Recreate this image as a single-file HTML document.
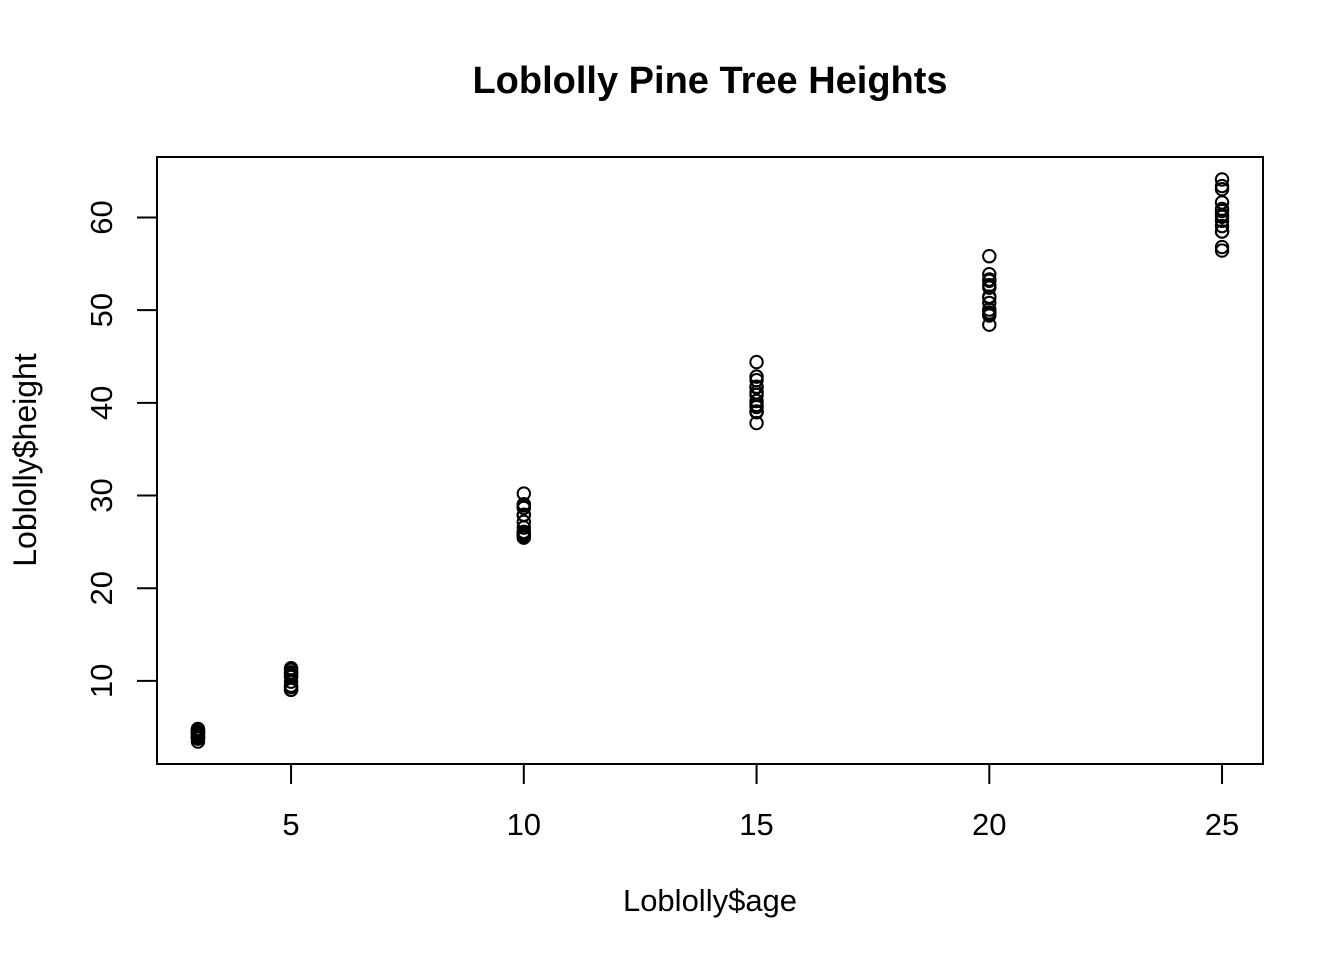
<!DOCTYPE html>
<html><head><meta charset="utf-8"><style>
body{margin:0;background:#fff;}
svg{display:block;font-family:"Liberation Sans",Arial,sans-serif;}
</style></head><body>
<svg id="chart" width="1344" height="960" viewBox="0 0 1344 960">
<text x="710" y="93" text-anchor="middle" font-size="38" font-weight="bold">Loblolly Pine Tree Heights</text>
<rect x="157" y="157" width="1106" height="607" fill="none" stroke="#000" stroke-width="2"/>
<text x="710" y="911" text-anchor="middle" font-size="31">Loblolly$age</text>
<text transform="translate(36,460) rotate(-90)" text-anchor="middle" font-size="32">Loblolly$height</text>
<g id="xaxis"></g>
<g id="yaxis"></g>
<g id="points"></g>
</svg>
<script>
const ages = [3,5,10,15,20,25];
const heights3 = [4.51,4.55,4.79,3.91,4.81,3.88,4.32,4.57,3.77,4.33,4.38,4.12,3.93,3.46];
const heights5 = [10.89,10.92,11.37,9.48,11.20,9.40,10.43,10.57,9.03,10.79,10.48,9.92,9.34,9.05];
const heights10 = [28.72,29.07,30.21,25.66,28.66,25.99,27.16,27.90,25.45,28.97,27.93,26.54,26.08,25.85];
const heights15 = [41.74,42.83,44.40,39.07,41.66,39.55,40.85,41.13,38.98,42.44,40.20,37.82,39.77,39.04];
const heights20 = [52.70,53.88,55.82,50.78,53.31,51.46,51.33,52.43,49.76,53.17,50.06,48.43,49.56,49.42];
const heights25 = [60.92,63.39,64.10,59.07,63.05,59.64,60.07,60.69,60.28,61.62,58.49,56.81,58.48,56.43];
const xTicks = [5,10,15,20,25];
const yTicks = [10,20,30,40,50,60];

const NS="http://www.w3.org/2000/svg";
const all=[heights3,heights5,heights10,heights15,heights20,heights25];
const xmin=Math.min(...ages), xmax=Math.max(...ages);
const flat=all.flat(); const ymin=Math.min(...flat), ymax=Math.max(...flat);
const xpad=(xmax-xmin)*0.04, ypad=(ymax-ymin)*0.04;
const X=v=>157+(v-(xmin-xpad))/((xmax+xpad)-(xmin-xpad))*1106;
const Y=v=>764-(v-(ymin-ypad))/((ymax+ypad)-(ymin-ypad))*607;
function mk(t,a){const e=document.createElementNS(NS,t);for(const k in a)e.setAttribute(k,a[k]);return e;}
const xg=document.getElementById('xaxis');
xg.appendChild(mk('line',{x1:X(xTicks[0]),x2:X(xTicks[xTicks.length-1]),y1:764,y2:764,stroke:'#000','stroke-width':2}));
xTicks.forEach(t=>{
  const l=mk('line',{x1:X(t),x2:X(t),y1:764,y2:784,stroke:'#000','stroke-width':2});
  
  
  xg.appendChild(l);
  const tx=mk('text',{x:X(t),y:835,'text-anchor':'middle','font-size':31});
  
  
  tx.textContent=t;xg.appendChild(tx);
});
const yg=document.getElementById('yaxis');
yTicks.forEach(t=>{
  const l=mk('line',{x1:137,x2:157,y1:Y(t),y2:Y(t),stroke:'#000','stroke-width':2});
  
  
  yg.appendChild(l);
  const tx=mk('text',{transform:`translate(112,${Y(t)}) rotate(-90)`,'text-anchor':'middle','font-size':31});
  
  
  tx.textContent=t;yg.appendChild(tx);
});
const pg=document.getElementById('points');
ages.forEach((a,i)=>{
  all[i].forEach(h=>{
    const c=mk('circle',{cx:X(a),cy:Y(h),r:6.2,fill:'none',stroke:'#000','stroke-width':2});
    
    
    pg.appendChild(c);
  });
});
</script>
</body></html>
